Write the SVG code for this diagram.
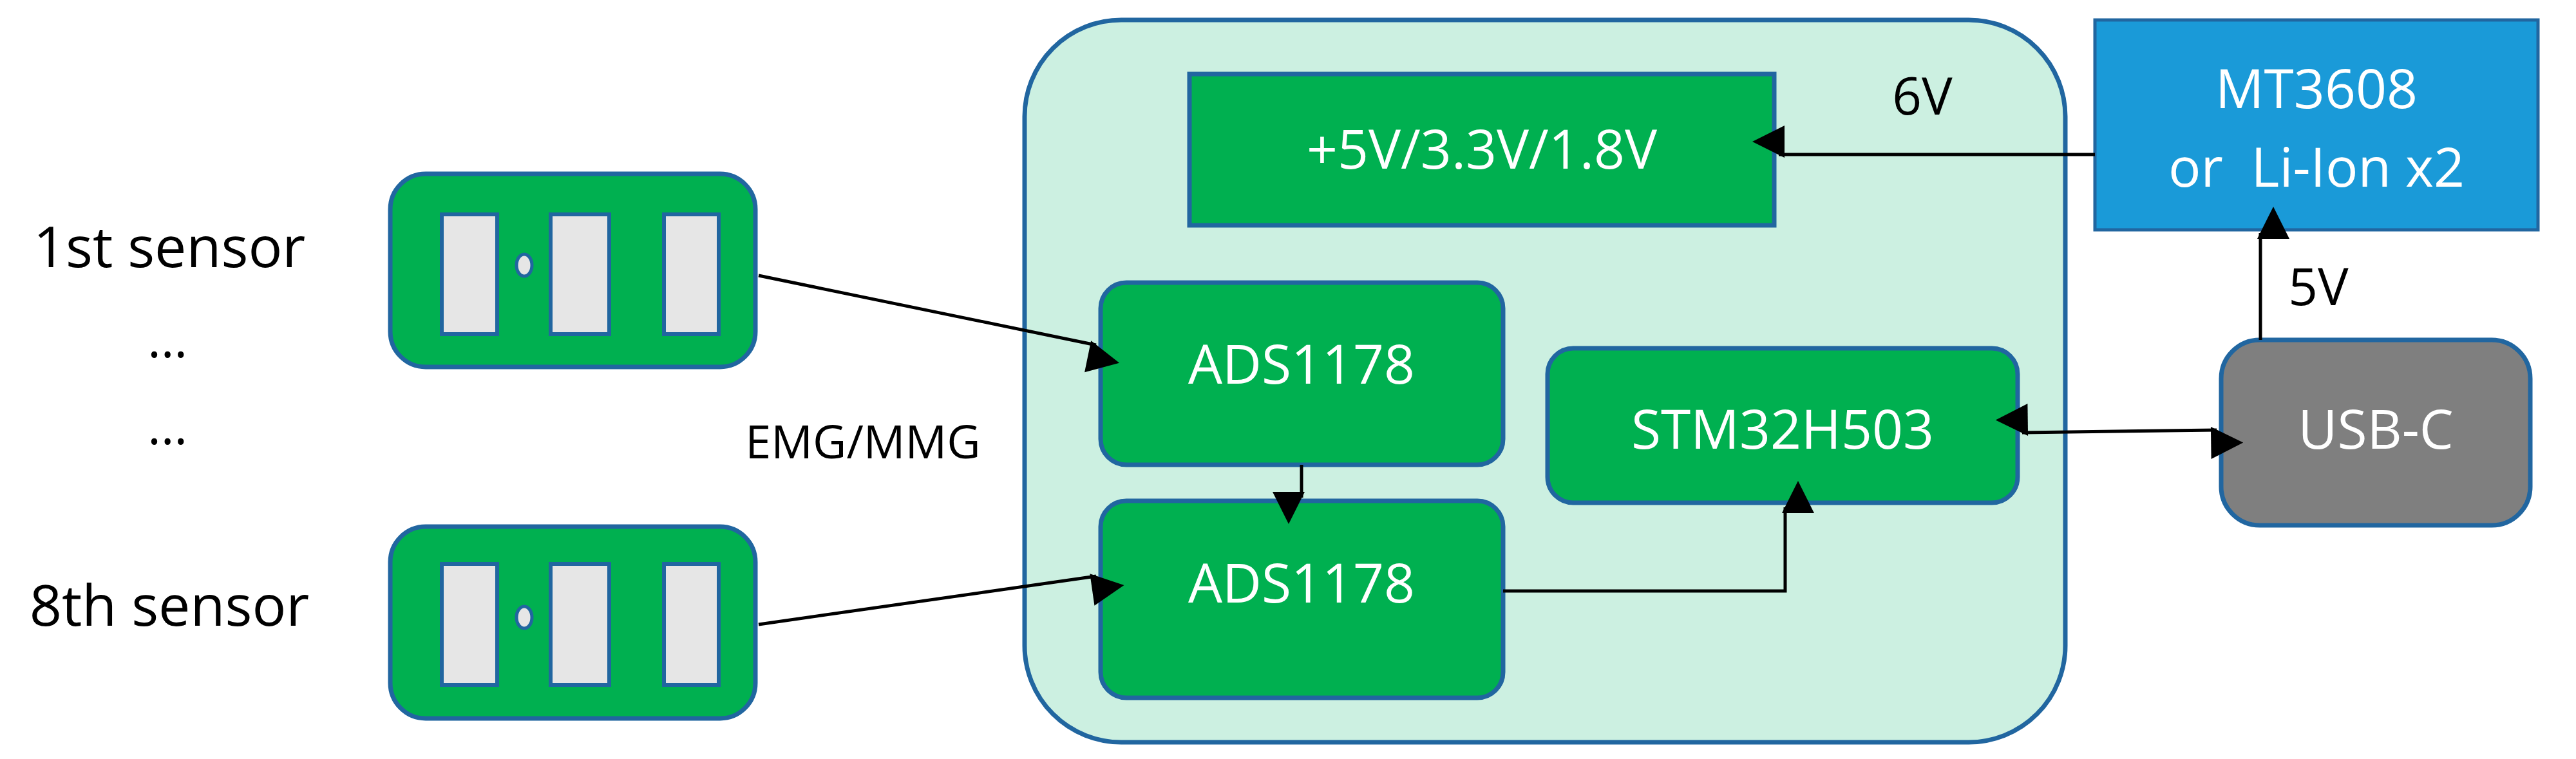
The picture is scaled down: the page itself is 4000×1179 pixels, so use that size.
<svg xmlns="http://www.w3.org/2000/svg" width="4000" height="1179" viewBox="0 0 4000 1179">
<style>
text{font-family:"Open Sans","Liberation Sans",sans-serif;text-anchor:middle}
.w{fill:#fff;font-size:84px}
.k{fill:#000;font-size:80px}
.g{fill:#00B050;stroke:#2166A0;stroke-width:7}
.pad{fill:#E6E6E6;stroke:#2166A0;stroke-width:6}
.c{stroke:#000;stroke-width:5;fill:none}
</style>
<defs>
<marker id="a" markerWidth="10" markerHeight="10" refX="9" refY="5" orient="auto-start-reverse" markerUnits="userSpaceOnUse" viewBox="0 0 10 10" style="overflow:visible"><path d="M0,0L10,5L0,10z" transform="scale(5)" fill="#000"/></marker>
</defs>
<g id="board"><rect x="1591" y="31" width="1616" height="1122" rx="150" fill="#CCF0E1" stroke="#2166A0" stroke-width="7"/></g>
<g id="power"><rect class="g" x="1847" y="115" width="908" height="235"/><text class="w" x="2301" y="262">+5V/3.3V/1.8V</text></g>
<g id="ads1"><rect class="g" x="1709" y="439" width="625" height="283" rx="40"/><text class="w" x="2021" y="596">ADS1178</text></g>
<g id="ads2"><rect class="g" x="1709" y="778" width="625" height="306" rx="40"/><text class="w" x="2021" y="936">ADS1178</text></g>
<g id="stm"><rect class="g" x="2403" y="541" width="730" height="240" rx="40"/><text class="w" x="2768" y="697">STM32H503</text></g>
<g id="mt3608"><rect x="3253" y="31" width="688" height="326" fill="#1A9AD8" stroke="#2166A0" stroke-width="5"/><text class="w" x="3597" y="168">MT3608</text><text class="w" x="3597" y="290" xml:space="preserve">or  Li-Ion x2</text></g>
<g id="usbc"><rect x="3449" y="528" width="480" height="288" rx="60" fill="#7F7F7F" stroke="#2166A0" stroke-width="7"/><text class="w" x="3689" y="697">USB-C</text></g>
<g id="sensor1"><rect class="g" x="606" y="270" width="567" height="300" rx="55"/>
<rect class="pad" x="686" y="333" width="86" height="186"/><rect class="pad" x="855" y="333" width="91" height="186"/><rect class="pad" x="1031" y="333" width="85" height="186"/>
<ellipse cx="814" cy="412" rx="12" ry="17" fill="#E6E6E6" stroke="#2166A0" stroke-width="5"/></g>
<g id="sensor8"><rect class="g" x="606" y="818" width="567" height="298" rx="55"/>
<rect class="pad" x="686" y="876" width="86" height="188"/><rect class="pad" x="855" y="876" width="91" height="188"/><rect class="pad" x="1031" y="876" width="85" height="188"/>
<ellipse cx="814" cy="959" rx="12" ry="17" fill="#E6E6E6" stroke="#2166A0" stroke-width="5"/></g>
<g id="labels">
<text class="k" x="263" y="415" font-size="88" style="font-size:88px">1st sensor</text>
<text class="k" x="260" y="555">…</text>
<text class="k" x="260" y="690">…</text>
<text class="k" x="263" y="972" style="font-size:88px">8th sensor</text>
<text class="k" x="1340" y="712" style="font-size:72px">EMG/MMG</text>
<text class="k" x="2985" y="178">6V</text>
<text class="k" x="3600" y="474">5V</text>
</g>
<g id="connectors">
<line class="c" x1="1178" y1="428" x2="1702" y2="536" marker-end="url(#a)"/>
<line class="c" x1="1178" y1="970" x2="1702" y2="895" marker-end="url(#a)"/>
<line class="c" x1="3253" y1="240" x2="2762" y2="240" marker-end="url(#a)"/>
<line class="c" x1="3510" y1="528" x2="3510" y2="362" marker-end="url(#a)"/>
<line class="c" x1="2021" y1="722" x2="2021" y2="773" marker-end="url(#a)"/>
<polyline class="c" points="2334,918 2772,918 2772,788" marker-end="url(#a)"/>
<line class="c" x1="3140" y1="672" x2="3442" y2="668" marker-start="url(#a)" marker-end="url(#a)"/>
</g>
</svg>
